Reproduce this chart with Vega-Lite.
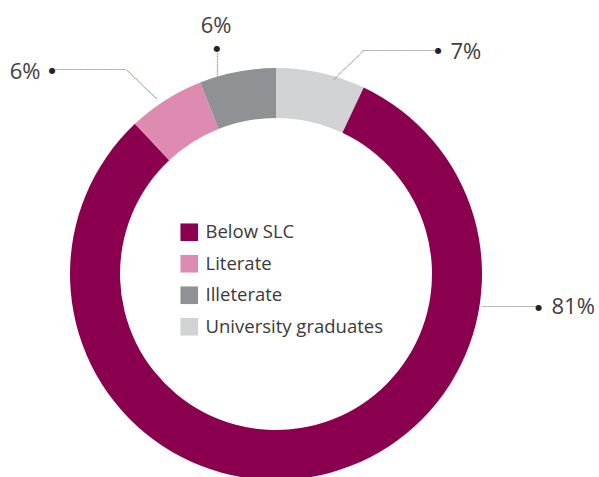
{
  "$schema": "https://vega.github.io/schema/vega-lite/v6.json",
  "width": 552,
  "height": 406,
  "autosize": {"type": "none"},
  "padding": {"left": 0, "top": 71, "right": 47, "bottom": 0},
  "background": "white",
  "config": {"view": {"stroke": null}, "font": "Open Sans"},
  "data": {
    "values": [
      {"category": "University graduates", "share": 0.07},
      {"category": "Below SLC", "share": 0.81},
      {"category": "Literate", "share": 0.06},
      {"category": "Illeterate", "share": 0.06}
    ]
  },
  "layer": [
    {
      "transform": [{"window": [{"op": "row_number", "as": "idx"}]}],
      "mark": {"type": "arc", "innerRadius": 156, "outerRadius": 206},
      "encoding": {
        "theta": {"field": "share", "type": "quantitative", "stack": true},
        "order": {"field": "idx", "type": "quantitative"},
        "color": {
          "field": "category",
          "type": "nominal",
          "scale": {
            "domain": ["Below SLC", "Literate", "Illeterate", "University graduates"],
            "range": ["#8A004E", "#DD8BB0", "#8F9194", "#D1D2D4"]
          },
          "legend": {
            "orient": "none",
            "legendX": 180,
            "legendY": 152,
            "title": null,
            "symbolType": "square",
            "symbolSize": 310,
            "symbolStrokeWidth": 0,
            "labelFont": "Open Sans",
            "labelFontSize": 18.5,
            "labelColor": "#3A3A3A",
            "labelLimit": 0,
            "labelOffset": 7,
            "rowPadding": 12.5
          }
        }
      }
    },
    {
      "transform": [{"filter": "datum.category === 'University graduates'"}],
      "mark": {"type": "text", "theta": 0.7078, "radius": 292, "fontSize": 22, "color": "#404040", "align": "center", "baseline": "middle"},
      "encoding": {"text": {"field": "share", "type": "quantitative", "format": ".0%"}}
    },
    {
      "transform": [{"filter": "datum.category === 'Below SLC'"}],
      "mark": {"type": "text", "theta": 1.6815, "radius": 299, "fontSize": 22, "color": "#404040", "align": "center", "baseline": "middle"},
      "encoding": {"text": {"field": "share", "type": "quantitative", "format": ".0%"}}
    },
    {
      "transform": [{"filter": "datum.category === 'Illeterate'"}],
      "mark": {"type": "text", "theta": -0.2371, "radius": 255, "fontSize": 22, "color": "#404040", "align": "center", "baseline": "middle"},
      "encoding": {"text": {"field": "share", "type": "quantitative", "format": ".0%"}}
    },
    {
      "transform": [{"filter": "datum.category === 'Literate'"}],
      "mark": {"type": "text", "theta": -0.8933, "radius": 322, "fontSize": 22, "color": "#404040", "align": "center", "baseline": "middle"},
      "encoding": {"text": {"field": "share", "type": "quantitative", "format": ".0%"}}
    },
    {
      "data": {"values": [{}]},
      "mark": {"type": "text", "text": "●", "font": "DejaVu Sans", "theta": 0.6285, "radius": 276, "fontSize": 8, "color": "#222222", "align": "center", "baseline": "middle"},
      "encoding": {}
    },
    {
      "data": {"values": [{}]},
      "mark": {"type": "text", "text": "●", "font": "DejaVu Sans", "theta": 1.6994, "radius": 265, "fontSize": 8, "color": "#222222", "align": "center", "baseline": "middle"},
      "encoding": {}
    },
    {
      "data": {"values": [{}]},
      "mark": {"type": "text", "text": "●", "font": "DejaVu Sans", "theta": -0.2566, "radius": 233, "fontSize": 8, "color": "#222222", "align": "center", "baseline": "middle"},
      "encoding": {}
    },
    {
      "data": {"values": [{}]},
      "mark": {"type": "text", "text": "●", "font": "DejaVu Sans", "theta": -0.8344, "radius": 302, "fontSize": 8, "color": "#222222", "align": "center", "baseline": "middle"},
      "encoding": {}
    },
    {
      "data": {"values": [{}]},
      "mark": {"type": "text", "text": "┈┈┈┈┈┈┈", "font": "DejaVu Sans Mono", "theta": 0.3368, "radius": 221, "angle": -44, "fontSize": 10, "color": "#777777", "align": "center", "baseline": "middle"},
      "encoding": {}
    },
    {
      "data": {"values": [{}]},
      "mark": {"type": "text", "text": "┈┈┈┈┈┈┈┈┈┈┈┈", "font": "DejaVu Sans Mono", "theta": 0.5055, "radius": 255, "angle": 0, "fontSize": 10, "color": "#777777", "align": "center", "baseline": "middle"},
      "encoding": {}
    },
    {
      "data": {"values": [{}]},
      "mark": {"type": "text", "text": "┈┈┈┈┈┈┈┈┈", "font": "DejaVu Sans Mono", "theta": 1.7118, "radius": 235, "angle": 0, "fontSize": 10, "color": "#777777", "align": "center", "baseline": "middle"},
      "encoding": {}
    },
    {
      "data": {"values": [{}]},
      "mark": {"type": "text", "text": "┈┈┈┈", "font": "DejaVu Sans Mono", "theta": -0.2753, "radius": 217, "angle": 90, "fontSize": 10, "color": "#777777", "align": "center", "baseline": "middle"},
      "encoding": {}
    },
    {
      "data": {"values": [{}]},
      "mark": {"type": "text", "text": "┈┈┈┈┈┈┈┈┈┈┈┈", "font": "DejaVu Sans Mono", "theta": -0.738, "radius": 276, "angle": 0, "fontSize": 10, "color": "#777777", "align": "center", "baseline": "middle"},
      "encoding": {}
    },
    {
      "data": {"values": [{}]},
      "mark": {"type": "text", "text": "┈┈┈┈┈┈┈", "font": "DejaVu Sans Mono", "theta": -0.6184, "radius": 232, "angle": 44, "fontSize": 10, "color": "#777777", "align": "center", "baseline": "middle"},
      "encoding": {}
    }
  ]
}
